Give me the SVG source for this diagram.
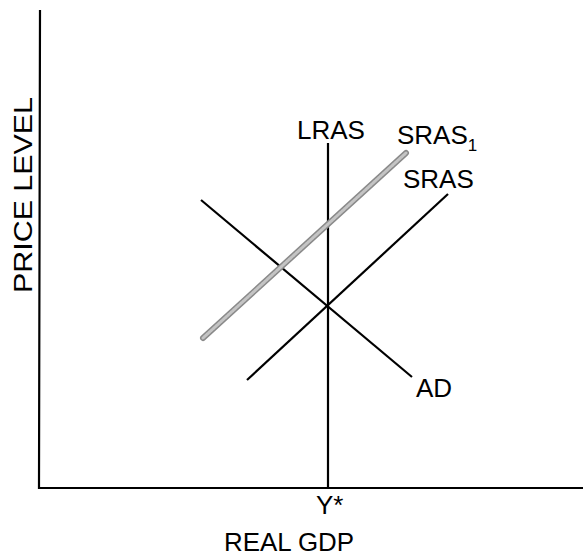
<svg xmlns="http://www.w3.org/2000/svg" width="583" height="557" viewBox="0 0 583 557">
<style>
text{font-family:"Liberation Sans",Arial,sans-serif;font-size:26px;fill:#000}
.ln{stroke:#000;stroke-width:2.2;fill:none}
</style>
<rect width="583" height="557" fill="#fff"/>
<g id="axes">
<polyline class="ln" points="40,10 39,488 583,488"/>
</g>
<g id="connectors">
<line id="lras" class="ln" x1="328" y1="143" x2="328" y2="488"/>
<line id="ad" class="ln" x1="201" y1="200" x2="412" y2="377"/>
<line id="sras" class="ln" x1="247" y1="380" x2="448" y2="194"/>
<g id="sras1">
<line x1="203" y1="338" x2="406" y2="153" stroke="#8a8a8a" stroke-width="6" stroke-linecap="round"/>
<line x1="203" y1="338" x2="406" y2="153" stroke="#c4c4c4" stroke-width="3" stroke-linecap="round" stroke-dasharray="1 1"/>
</g>
</g>
<g id="labels">
<text x="297" y="139">LRAS</text>
<text x="397" y="144">SRAS<tspan font-size="17" dy="7">1</tspan></text>
<text x="403" y="188">SRAS</text>
<text x="416" y="397">AD</text>
<text x="316" y="514">Y*</text>
<text x="224" y="551" font-size="24" textLength="130" lengthAdjust="spacingAndGlyphs">REAL GDP</text>
<text transform="translate(32,293) rotate(-90)" textLength="196" lengthAdjust="spacingAndGlyphs">PRICE LEVEL</text>
</g>
</svg>
